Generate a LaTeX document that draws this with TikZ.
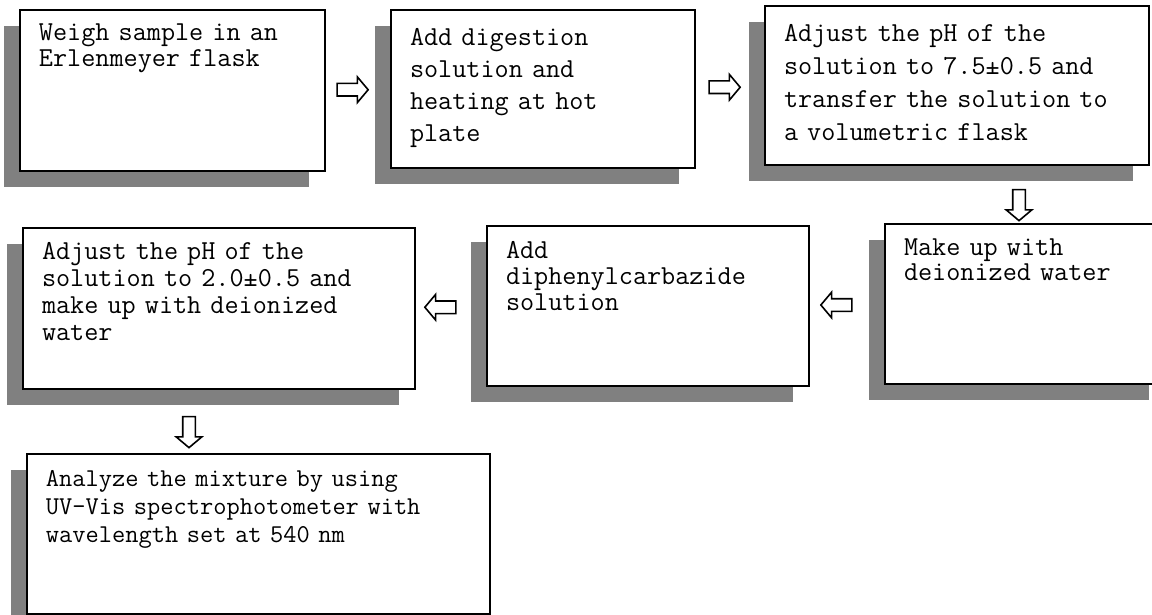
\documentclass[tikz,border=0pt]{standalone}
\usepackage{fontspec}
\usetikzlibrary{calc,shapes.arrows,shadows}
\definecolor{shadowgrey}{HTML}{808080}
\tikzset{
  stepbox/.style={
    rectangle, draw=black, line width=1pt, fill=white,
    drop shadow={shadow xshift=-8pt, shadow yshift=-8pt, fill=shadowgrey, opacity=1},
    anchor=north west, align=left, inner xsep=9.5pt, inner ysep=0pt,
    font=\ttfamily\fontsize{13.7}{#1}\selectfont
  },
  stepbox/.default=13,
  flowarrow/.style={
    single arrow, draw=black, line width=0.8pt, fill=white,
    minimum height=15.5pt, minimum width=12pt, inner sep=2.75pt,
    single arrow head extend=3.25pt, single arrow tip angle=100,
    shape border rotate=#1
  },
  flowarrow/.default=0,
}

\begin{document}
\begin{tikzpicture}[x=0.5pt, y=-0.5pt]
  \useasboundingbox (0,0) rectangle (1152,615);

  % Top row
  \node[stepbox, text width=133.5pt, text height=15.5pt, text depth=65pt] (weigh) at (19,9)
    {Weigh sample in an\\Erlenmeyer flask};
  \node[stepbox=16, text width=133pt, text height=18pt, text depth=61pt] (digest) at (390,9)
    {Add digestion\\solution and\\heating at hot\\plate};
  \node[stepbox=16.5, text width=173pt, text height=18pt, text depth=61.5pt] (adjustA) at (764,5)
    {Adjust the pH of the\\solution to 7.5±0.5 and\\transfer the solution to\\a volumetric flask};

  % Middle row
  \node[stepbox=12.5, text width=121pt, text height=16pt, text depth=64pt] (makeup) at (884,223)
    {Make up with\\deionized water};
  \node[stepbox, text width=142pt, text height=16pt, text depth=64pt] (carbazide) at (486,225)
    {Add\\diphenylcarbazide\\solution};
  \node[stepbox=13.5, text width=177pt, text height=15.5pt, text depth=65pt] (adjustB) at (22,227)
    {Adjust the pH of the\\solution to 2.0±0.5 and\\make up with deionized\\water};

  % Last step
  \node[stepbox, font=\ttfamily\fontsize{12.85}{14}\selectfont,
        text width=212.5pt, text height=16pt, text depth=64pt] (analyze) at (26,453)
    {Analyze the mixture by using\\UV-Vis spectrophotometer with\\wavelength set at 540 nm};

  % Block arrows between steps
  \node[flowarrow] (a1) at ($(weigh.east)!0.5!([xshift=-8pt]digest.west)$) {};
  \node[flowarrow] (a2) at ($(digest.east)!0.5!([xshift=-8pt]adjustA.west)$) {};
  \node[flowarrow=270, xshift=-3pt] (a3)
    at ($([yshift=-8pt]adjustA.south -| makeup.north)!0.5!(makeup.north)$) {};
  \node[flowarrow=180] (a4) at ($(carbazide.east)!0.5!([xshift=-8pt]makeup.west)$) {};
  \node[flowarrow=180] (a5) at ($(adjustB.east)!0.5!([xshift=-8pt]carbazide.west)$) {};
  \node[flowarrow=270, xshift=-15pt] (a6)
    at ($([yshift=-8pt]adjustB.south)!0.5!(adjustB.south |- analyze.north)$) {};
\end{tikzpicture}
\end{document}
